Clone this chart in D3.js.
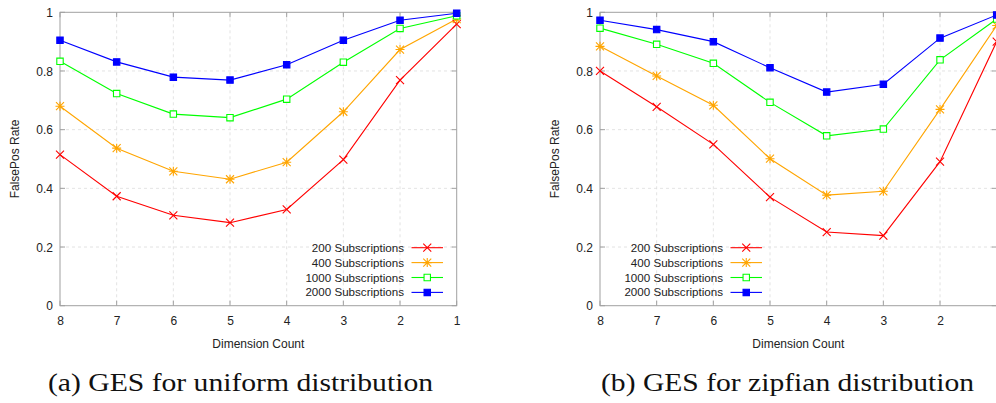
<!DOCTYPE html>
<html>
<head>
<meta charset="utf-8">
<script src="https://cdn.jsdelivr.net/npm/d3@7"></script>
<style>
  body { margin: 0; background: #fff; }
  svg { display: block; }
</style>
</head>
<body>
<svg id="chart" width="996" height="403"></svg>
<script>
// Dimension counts along the x axis (reversed: 8 on the left, 1 on the right)
const dims = [8, 7, 6, 5, 4, 3, 2, 1];
const seriesNames = ["200 Subscriptions", "400 Subscriptions", "1000 Subscriptions", "2000 Subscriptions"];
const yTicks = [0, 0.2, 0.4, 0.6, 0.8, 1];
const yTickLabels = ["0", "0.2", "0.4", "0.6", "0.8", "1"];
const xTicksUniform = [8, 7, 6, 5, 4, 3, 2, 1];
const xTicksZipf = [8, 7, 6, 5, 4, 3, 2];

// False-positive rate, uniform distribution
const uniform200  = [0.515, 0.373, 0.308, 0.283, 0.328, 0.498, 0.769, 0.960];
const uniform400  = [0.680, 0.537, 0.458, 0.431, 0.489, 0.661, 0.873, 0.977];
const uniform1000 = [0.833, 0.723, 0.653, 0.641, 0.704, 0.830, 0.945, 0.988];
const uniform2000 = [0.905, 0.831, 0.779, 0.769, 0.821, 0.905, 0.973, 0.997];

// False-positive rate, zipfian distribution
const zipf200  = [0.800, 0.678, 0.550, 0.370, 0.251, 0.239, 0.491, 0.900];
const zipf400  = [0.884, 0.783, 0.683, 0.501, 0.377, 0.390, 0.669, 0.955];
const zipf1000 = [0.946, 0.891, 0.826, 0.693, 0.579, 0.602, 0.838, 0.977];
const zipf2000 = [0.973, 0.941, 0.900, 0.811, 0.728, 0.755, 0.912, 0.991];

const captions = ["(a) GES for uniform distribution", "(b) GES for zipfian distribution"];
const xAxisTitle = "Dimension Count";
const yAxisTitle = "FalsePos Rate";

// Line colours and point types per series
const colors = ["#ff0000", "#ffa500", "#00ff00", "#0000ff"];
const markers = ["cross", "star", "openSquare", "filledSquare"];

const svg = d3.select("#chart");
const sansFont = "'Liberation Sans', Arial, Helvetica, sans-serif";
const gridColor = "#dcdcdc";
const frameColor = "#a0a0a0";

function markerPath(type) {
  const r = 4;
  if (type === "cross") return `M${-r},${-r}L${r},${r}M${-r},${r}L${r},${-r}`;
  if (type === "star") return `M${-r},${-r}L${r},${r}M${-r},${r}L${r},${-r}M0,${-r - 0.5}L0,${r + 0.5}M${-r - 0.5},0L${r + 0.5},0`;
  const s = 3.2;
  return `M${-s},${-s}H${s}V${s}H${-s}Z`;
}

function drawPanel(cfg) {
  const x = d3.scaleLinear().domain([8, 1]).range([cfg.left, cfg.right]);
  const y = d3.scaleLinear().domain([0, 1]).range([cfg.bottom, cfg.top]);
  const g = svg.append("g");

  // dashed grid
  g.append("g").selectAll("line").data(dims.slice(1, -1)).join("line")
    .attr("x1", d => x(d)).attr("x2", d => x(d))
    .attr("y1", cfg.top).attr("y2", cfg.bottom)
    .attr("stroke", gridColor).attr("stroke-width", 0.8).attr("stroke-dasharray", "3,3");
  g.append("g").selectAll("line").data(yTicks.slice(1, -1)).join("line")
    .attr("x1", cfg.left).attr("x2", cfg.right)
    .attr("y1", d => y(d)).attr("y2", d => y(d))
    .attr("stroke", gridColor).attr("stroke-width", 0.8).attr("stroke-dasharray", "3,3");

  // axes via d3 axis generators (labels only; ticks drawn inward below)
  const xAxis = d3.axisBottom(x).tickValues(cfg.xTicks).tickFormat(d3.format("d")).tickSize(0).tickPadding(0);
  const gx = g.append("g").attr("transform", `translate(0,${cfg.bottom})`).call(xAxis);
  gx.select(".domain").remove();
  gx.selectAll("text").attr("y", 19).attr("dy", null)
    .attr("font-family", sansFont).attr("font-size", 12).attr("fill", "#222");

  const yAxis = d3.axisLeft(y).tickValues(yTicks).tickFormat((d, i) => yTickLabels[i]).tickSize(0).tickPadding(0);
  const gy = g.append("g").attr("transform", `translate(${cfg.left},0)`).call(yAxis);
  gy.select(".domain").remove();
  gy.selectAll("text").attr("x", -7).attr("dy", "0.35em")
    .attr("font-family", sansFont).attr("font-size", 12).attr("fill", "#222");

  // inward ticks on all four sides
  const tk = 5;
  const tickG = g.append("g").attr("stroke", frameColor).attr("stroke-width", 1);
  dims.forEach(d => {
    tickG.append("line").attr("x1", x(d)).attr("x2", x(d)).attr("y1", cfg.bottom).attr("y2", cfg.bottom - tk);
    tickG.append("line").attr("x1", x(d)).attr("x2", x(d)).attr("y1", cfg.top).attr("y2", cfg.top + tk);
  });
  yTicks.forEach(d => {
    tickG.append("line").attr("x1", cfg.left).attr("x2", cfg.left + tk).attr("y1", y(d)).attr("y2", y(d));
    tickG.append("line").attr("x1", cfg.right).attr("x2", cfg.right - tk).attr("y1", y(d)).attr("y2", y(d));
  });

  // frame
  g.append("rect").attr("x", cfg.left).attr("y", cfg.top)
    .attr("width", cfg.right - cfg.left).attr("height", cfg.bottom - cfg.top)
    .attr("fill", "none").attr("stroke", frameColor).attr("stroke-width", 1);

  // axis titles
  g.append("text").attr("x", (cfg.left + cfg.right) / 2).attr("y", cfg.bottom + 42)
    .attr("text-anchor", "middle").attr("font-family", sansFont).attr("font-size", 12).attr("fill", "#222")
    .text(xAxisTitle);
  g.append("text")
    .attr("transform", `translate(${cfg.left - 41},${(cfg.top + cfg.bottom) / 2}) rotate(-90)`)
    .attr("text-anchor", "middle").attr("font-family", sansFont).attr("font-size", 12).attr("fill", "#222")
    .text(yAxisTitle);

  // series lines and points
  const line = d3.line().x((d, i) => x(dims[i])).y(d => y(d));
  cfg.series.forEach((vals, k) => {
    g.append("path").datum(vals).attr("d", line)
      .attr("fill", "none").attr("stroke", colors[k]).attr("stroke-width", 1.1);
  });
  cfg.series.forEach((vals, k) => {
    const filled = markers[k] === "filledSquare";
    g.append("g").selectAll("path").data(vals).join("path")
      .attr("transform", (d, i) => `translate(${x(dims[i])},${y(d)})`)
      .attr("d", markerPath(markers[k]))
      .attr("fill", filled ? colors[k] : (markers[k] === "openSquare" ? "#fff" : "none"))
      .attr("stroke", colors[k]).attr("stroke-width", 1.1);
  });

  // legend
  const lg = g.append("g");
  seriesNames.forEach((name, k) => {
    const ly = cfg.legendTop + k * 14.9;
    lg.append("text").attr("x", cfg.legendTextRight).attr("y", ly).attr("dy", "0.35em")
      .attr("text-anchor", "end").attr("font-family", sansFont).attr("font-size", 11.6).attr("fill", "#222")
      .text(name);
    const x0 = cfg.legendTextRight + 7.5, x1 = x0 + 31.5;
    lg.append("line").attr("x1", x0).attr("x2", x1).attr("y1", ly).attr("y2", ly)
      .attr("stroke", colors[k]).attr("stroke-width", 1.1);
    const filled = markers[k] === "filledSquare";
    lg.append("path").attr("transform", `translate(${(x0 + x1) / 2},${ly})`)
      .attr("d", markerPath(markers[k]))
      .attr("fill", filled ? colors[k] : (markers[k] === "openSquare" ? "#fff" : "none"))
      .attr("stroke", colors[k]).attr("stroke-width", 1.1);
  });

  // caption
  svg.append("text").attr("x", cfg.captionCenter).attr("y", 391)
    .attr("text-anchor", "middle")
    .attr("font-family", "'Liberation Serif', 'Times New Roman', serif").attr("font-size", 26)
    .attr("fill", "#111")
    .attr("textLength", cfg.captionWidth).attr("lengthAdjust", "spacingAndGlyphs")
    .text(cfg.caption);
}

drawPanel({
  left: 60, right: 456.7, top: 12.3, bottom: 305.7,
  xTicks: xTicksUniform,
  series: [uniform200, uniform400, uniform1000, uniform2000],
  legendTop: 247.7, legendTextRight: 404,
  caption: captions[0], captionCenter: 240.5, captionWidth: 385
});
drawPanel({
  left: 600, right: 996.7, top: 12.3, bottom: 305.7,
  xTicks: xTicksZipf,
  series: [zipf200, zipf400, zipf1000, zipf2000],
  legendTop: 247.7, legendTextRight: 723,
  caption: captions[1], captionCenter: 787.5, captionWidth: 373
});
</script>
</body>
</html>
